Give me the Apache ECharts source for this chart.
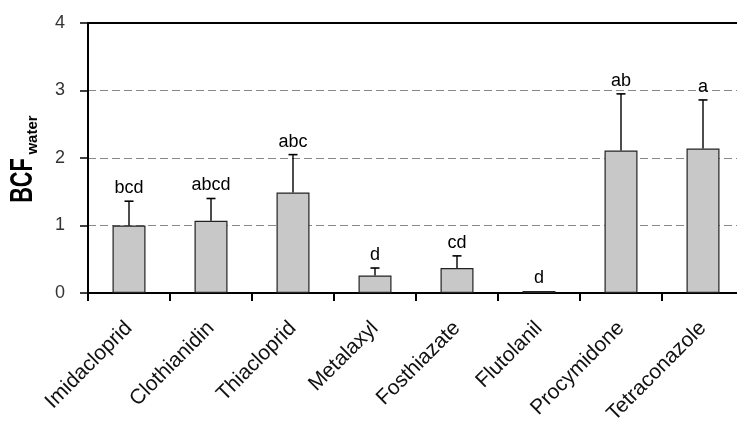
<!DOCTYPE html>
<html>
<head>
<meta charset="utf-8">
<script src="https://cdn.jsdelivr.net/npm/echarts@6/dist/echarts.min.js"></script>
<style>
  html, body { margin: 0; padding: 0; background: #fff; }
  #chart { width: 737px; height: 421px; }
</style>
</head>
<body>
<div id="chart"></div>
<script>
var compounds = ["Imidacloprid", "Clothianidin", "Thiacloprid", "Metalaxyl", "Fosthiazate", "Flutolanil", "Procymidone", "Tetraconazole"];
var bcfMean = [1.0, 1.07, 1.49, 0.26, 0.37, 0.03, 2.11, 2.14];
var bcfUpper = [1.36, 1.40, 2.05, 0.37, 0.55, 0.03, 2.95, 2.86];
var groupLetters = ["bcd", "abcd", "abc", "d", "cd", "d", "ab", "a"];
var yTicks = [0, 1, 2, 3, 4];

var dom = document.getElementById("chart");
var myChart = echarts.init(dom, null, { renderer: "canvas" });

// error bars + letters drawn at the upper value
var errData = compounds.map(function (c, i) {
  return [i, bcfMean[i], bcfUpper[i], groupLetters[i]];
});

var option = {
  animation: false,
  grid: {
    left: 88, top: 23, width: 656, bottom: 128,
    outerBoundsMode: "none",
    containLabel: false
  },
  // y title: BCF with subscript "water" (narrow bold face in the original)
  graphic: [
    {
      type: "text", x: 23.5, y: 180.5, rotation: Math.PI / 2, scaleX: 0.68, scaleY: 1,
      style: { text: "BCF", font: "bold 32px 'Liberation Sans'", fill: "#000", align: "center", verticalAlign: "middle" }
    },
    {
      type: "text", x: 33, y: 135, rotation: Math.PI / 2,
      style: { text: "water", font: "bold 15px 'Liberation Sans'", fill: "#000", align: "center", verticalAlign: "middle" }
    }
  ],
  xAxis: [
    {
      type: "category",
      data: compounds,
      axisLine: { lineStyle: { color: "#000", width: 2 } },
      axisTick: { show: true, length: 8, lineStyle: { color: "#000", width: 2 } },
      axisLabel: {
        rotate: 45, margin: 32, color: "#111",
        fontFamily: "Liberation Sans", fontSize: 21, interval: 0
      }
    },
    {
      // top frame line
      type: "category",
      data: compounds,
      position: "top",
      axisLine: { show: true, lineStyle: { color: "#000", width: 2 } },
      axisTick: { show: false },
      axisLabel: { show: false },
      splitLine: { show: false }
    }
  ],
  yAxis: {
    type: "value",
    min: yTicks[0], max: yTicks[yTicks.length - 1], interval: 1,
    axisLine: { show: true, lineStyle: { color: "#000", width: 2 } },
    axisTick: { show: true, length: 8, lineStyle: { color: "#000", width: 1.5 } },
    axisLabel: { color: "#333", fontFamily: "Liberation Sans", fontSize: 18, margin: 23 },
    splitLine: { lineStyle: { color: "#888", type: [8, 4], width: 1.2 } }
  },
  series: [
    {
      type: "bar",
      data: bcfMean,
      barWidth: 33,
      itemStyle: { color: "#c8c8c8", borderColor: "#222", borderWidth: 1.2 }
    },
    {
      type: "custom",
      data: errData,
      z: 5,
      renderItem: function (params, api) {
        var i = api.value(0);
        var lo = api.coord([i, api.value(1)]);
        var hi = api.coord([i, api.value(2)]);
        var children = [];
        if (hi[1] < lo[1] - 1) {
          children.push({
            type: "line",
            shape: { x1: hi[0], y1: lo[1], x2: hi[0], y2: hi[1] },
            style: { stroke: "#000", lineWidth: 1.4 }
          });
          children.push({
            type: "line",
            shape: { x1: hi[0] - 4.5, y1: hi[1], x2: hi[0] + 4.5, y2: hi[1] },
            style: { stroke: "#000", lineWidth: 1.6 }
          });
        }
        children.push({
          type: "text",
          x: hi[0], y: hi[1] - 4,
          style: {
            text: errData[params.dataIndex][3],
            fill: "#000", font: "18px 'Liberation Sans'",
            align: "center", verticalAlign: "bottom"
          }
        });
        return { type: "group", children: children };
      }
    }
  ]
};

myChart.setOption(option);
window.addEventListener("resize", myChart.resize);
</script>
</body>
</html>
